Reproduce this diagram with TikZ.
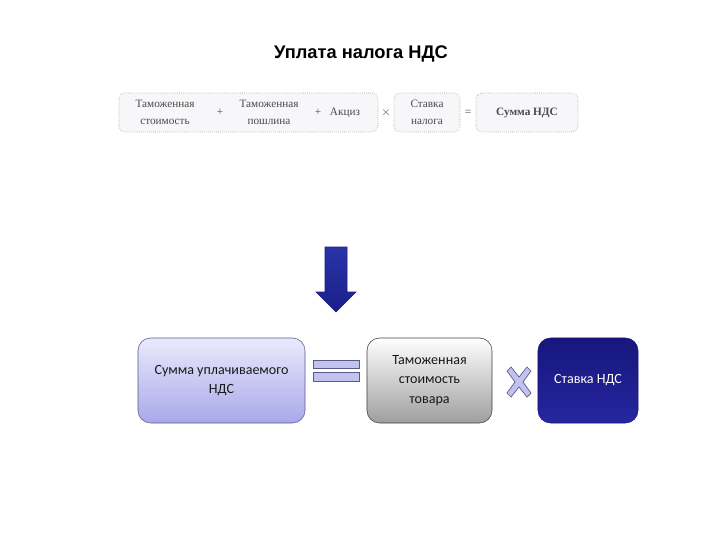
\documentclass[tikz,border=0pt]{standalone}
\usepackage{fontspec}
\setmainfont{Liberation Serif}
\newfontfamily\calfont{Carlito}
\newfontfamily\headfont{Liberation Sans}
\definecolor{stripfill}{HTML}{F7F7FA}
\definecolor{stripline}{HTML}{9A9AA0}
\definecolor{striptext}{HTML}{4A4A4A}
\definecolor{lavtop}{HTML}{EAEAFC}
\definecolor{lavbot}{HTML}{A8A8EA}
\definecolor{lavline}{HTML}{5A5A8A}
\definecolor{navytop}{HTML}{16167C}
\definecolor{navybot}{HTML}{2626A0}
\definecolor{arrowtop}{HTML}{2A34A8}
\definecolor{arrowbot}{HTML}{1A1F88}
\tikzset{
  termbox/.style={draw=stripline,densely dotted,fill=stripfill,rounded corners=4pt},
  termtext/.style={font=\fontsize{8}{12}\selectfont,text=striptext,align=center},
  blockbox/.style={rounded corners=9pt,minimum height=2.125cm,align=center,
    font=\calfont\fontsize{10}{14}\selectfont,text=black!90},
  signshape/.style={fill=lavtop!40!lavbot,draw=lavline,line width=0.5pt}
}
\begin{document}
\begin{tikzpicture}[x=0.025cm,y=-0.025cm]
\useasboundingbox (0,0) rectangle (720,540);
\node[font=\headfont\bfseries\fontsize{13}{15}\selectfont] (title) at (361,54) {Уплата налога НДС};
\draw[termbox] (119,93) rectangle (378,132);
\draw[termbox] (394,93) rectangle (460,132);
\draw[termbox] (476,93) rectangle (578,132);
\node[termtext] (tvalue) at (165,112.5) {Таможенная\\стоимость};
\node[termtext] (plusa) at (220,112.5) {+};
\node[termtext] (duty) at (269,112.5) {Таможенная\\пошлина};
\node[termtext] (plusb) at (318,112.5) {+};
\node[termtext] (excise) at (345,112.5) {Акциз};
\node[termtext] (times) at (386,112.5) {$\times$};
\node[termtext] (rate) at (427,112.5) {Ставка\\налога};
\node[termtext] (equals) at (468,112.5) {=};
\node[termtext,font=\bfseries\fontsize{8}{12}\selectfont] (vat) at (527,112.5) {Сумма НДС};
\shade[top color=arrowtop,bottom color=arrowbot,draw=arrowbot]
  (325,247) -- (347,247) -- (347,292) -- (356,292) -- (336,312) -- (316,292) -- (325,292) -- cycle;
\node[blockbox,minimum width=4.175cm,draw=lavline,top color=lavtop,bottom color=lavbot] (paid) at (221.5,380.5) {Сумма уплачиваемого\\НДС};
\draw[signshape] (313,360) rectangle (359,368);
\draw[signshape] (313,372) rectangle (359,381);
\node[blockbox,minimum width=3.125cm,draw=black!75,top color=white,bottom color=black!38] (goods) at (429.5,380.5) {Таможенная\\стоимость\\товара};
\draw[signshape,shift={(519,382)}]
  (-12,-11) -- (-8,-15) -- (0,-5) -- (8,-15) -- (12,-11) -- (4,0) -- (12,11) -- (8,15)
  -- (0,5) -- (-8,15) -- (-12,11) -- (-4,0) -- cycle;
\node[blockbox,minimum width=2.5cm,draw=navytop,top color=navytop,bottom color=navybot,text=white] (vatrate) at (588,380.5) {Ставка НДС};
\end{tikzpicture}
\end{document}
